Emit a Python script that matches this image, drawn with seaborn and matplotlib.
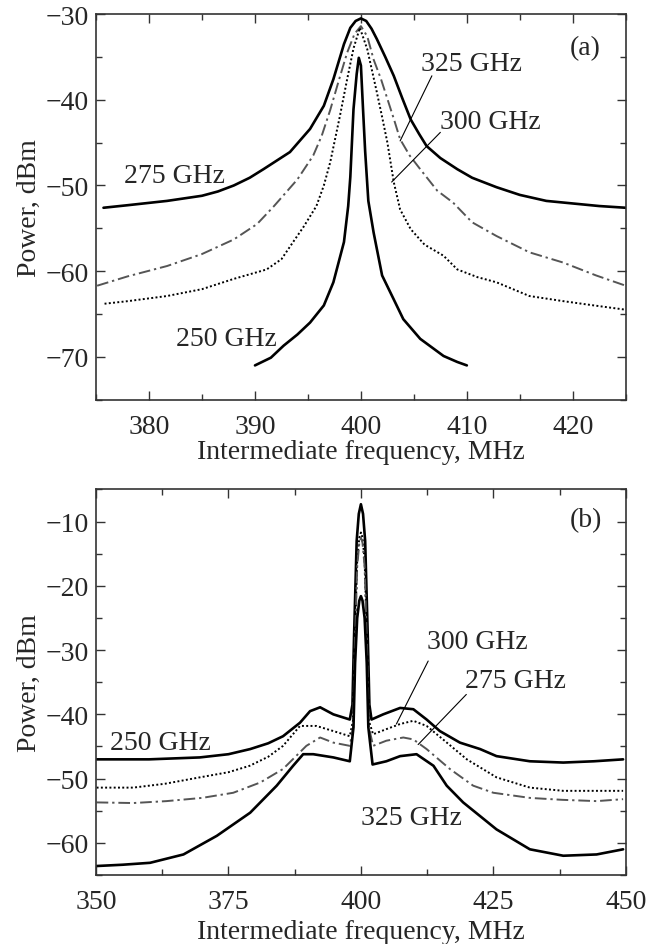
import numpy as np
import pandas as pd
import matplotlib
matplotlib.use("Agg")
import matplotlib.pyplot as plt
import seaborn as sns
from matplotlib.ticker import MultipleLocator

# ---- panel (a): IF spectra, 375-425 MHz ----
a_f275 = [375.7, 378, 381.7, 385, 386.5, 388, 389.5, 390.8, 393.3, 395.2, 396.5, 397.4,
          398.4, 399.0, 399.5, 400.0, 400.5, 401.0, 401.5, 402.3, 403.1, 403.9, 404.7,
          405.5, 406.2, 407.5, 409.1, 410.5, 412.8, 415, 417.5, 420, 422.5, 425]
a_p275 = [-52.6, -52.3, -51.8, -51.2, -50.7, -50.0, -49.1, -48.1, -46.1, -43.4, -40.7, -37.6,
          -33.5, -31.6, -30.8, -30.5, -30.8, -31.7, -32.9, -35.0, -37.2, -39.8, -42.3,
          -44.0, -45.4, -46.8, -48.1, -49.1, -50.2, -51.1, -51.8, -52.1, -52.4, -52.6]

a_f325 = [375.1, 378, 381.7, 385, 388, 390.2, 391.8, 394.0, 395.5, 396.3, 397.1, 397.9,
          398.7, 399.4, 400.0, 400.6, 401.2, 401.9, 402.5, 403.1, 403.7, 404.6, 405.6,
          407.2, 408.7, 410.5, 412.8, 415.9, 419.1, 422.2, 425]
a_p325 = [-61.7, -60.6, -59.4, -58.0, -56.3, -54.5, -52.4, -49.3, -46.5, -44.2, -41.2, -37.8,
          -34.5, -32.3, -31.4, -32.6, -35.3, -37.6, -39.9, -42.2, -44.6, -46.5, -48.1,
          -50.6, -52.0, -54.3, -55.9, -57.8, -59.0, -60.5, -61.7]

a_f300 = [375.8, 378, 381.7, 385, 388, 391.1, 392.5, 393.6, 394.6, 395.8, 396.5, 397.1,
          398.0, 398.7, 399.3, 399.9, 400.6, 401.5, 402.0, 402.5, 403.1, 403.7, 404.7, 406.0,
          407.8, 409.1, 411, 412.8, 415.9, 419.1, 422, 425]
a_p300 = [-63.8, -63.5, -62.9, -62.1, -60.9, -59.8, -58.6, -56.6, -54.8, -52.4, -50.0, -47.3,
          -42.0, -37.6, -34.0, -31.6, -34.1, -39.1, -42.0, -45.0, -49.6, -52.8, -55.1, -56.9,
          -58.2, -59.8, -60.7, -61.3, -62.9, -63.5, -64.0, -64.5]

a_f250 = [390, 391.5, 392.7, 394, 395.2, 396.5, 397.4, 398.4, 398.8, 399.0, 399.3, 399.6,
          399.8, 400.0, 400.2, 400.4, 400.7, 401.2, 402.0, 403.1, 404.0, 405.6, 407.8,
          409.1, 410]
a_p250 = [-71.0, -70.1, -68.7, -67.4, -66.0, -64.0, -61.3, -56.6, -52.4, -49.0, -41.1, -37.0,
          -35.1, -36.0, -41.1, -46.0, -51.8, -55.5, -60.5, -63.3, -65.6, -67.9, -69.9,
          -70.6, -71.0]

# ---- panel (b): IF spectra, 350-450 MHz ----
b_f250 = [350.1, 360, 369.6, 375, 379.1, 382.5, 385.3, 388.5, 390.4, 392.3, 394.8, 397.9,
          398.4, 398.7, 399.2, 399.6, 400.0, 400.4, 400.8, 401.3, 401.6, 402.0, 404.2,
          407.4, 409.9, 412.4, 414.9, 418.7, 422.5, 425.6, 431.9, 438.2, 444, 449.5]
b_p250 = [-47.0, -47.0, -46.7, -46.2, -45.4, -44.5, -43.4, -41.3, -39.5, -38.9, -40.0, -40.8,
          -38.5, -28.0, -13.0, -8.8, -7.3, -8.8, -13.0, -28.0, -38.5, -40.8, -40.0,
          -39.0, -39.2, -40.8, -42.6, -44.4, -45.4, -46.5, -47.3, -47.5, -47.3, -47.0]

b_f300 = [350.1, 357, 363, 369.6, 375, 379, 382.5, 385.3, 388.5, 391.6, 394.8, 397.9,
          398.5, 398.8, 399.3, 399.7, 400.0, 400.3, 400.7, 401.2, 401.5, 402.3, 404.8,
          407.4, 409.9, 412.4, 415.5, 420, 425.6, 431.9, 438.2, 444, 449.5]
b_p300 = [-51.4, -51.4, -50.8, -49.8, -49.0, -48.0, -46.6, -44.9, -41.8, -41.8, -42.6, -43.4,
          -41.0, -30.0, -16.0, -12.5, -11.7, -12.5, -16.0, -30.0, -41.0, -43.1, -42.3,
          -41.5, -41.0, -41.8, -43.9, -47.0, -49.8, -51.4, -51.9, -51.9, -51.9]

b_f275 = [350.1, 357, 363.3, 370, 375.9, 381, 385.3, 389.7, 392.3, 394.8, 397.9,
          398.5, 398.8, 399.3, 399.7, 400.0, 400.3, 400.7, 401.2, 401.5, 402.3, 404.8,
          408.0, 409.9, 412.4, 416.8, 421.2, 425, 431.9, 438, 444.5, 449.5]
b_p275 = [-53.7, -53.8, -53.5, -53.0, -52.2, -50.6, -48.5, -44.9, -43.6, -44.4, -44.9,
          -42.0, -31.0, -17.0, -13.3, -12.5, -13.3, -17.0, -31.0, -42.0, -44.9, -44.1,
          -43.6, -43.9, -45.4, -48.5, -51.1, -52.2, -53.0, -53.3, -53.5, -53.2]

b_f325 = [350.1, 355, 360.2, 366.5, 372.8, 379.1, 384.1, 387.2, 389.1, 391.0, 394.8, 397.9,
          398.6, 398.9, 399.3, 399.7, 400.0, 400.3, 400.7, 401.1, 401.4, 402.2, 404.8,
          407.4, 410.5, 413.7, 416.2, 419.3, 425.6, 431.9, 438.2, 444.5, 449.5]
b_p325 = [-63.6, -63.4, -63.1, -61.8, -58.9, -55.3, -51.1, -48.0, -46.2, -46.2, -46.7, -47.3,
          -42.0, -32.0, -25.0, -22.3, -21.6, -22.3, -25.0, -32.0, -42.0, -47.8, -47.3,
          -46.5, -46.2, -48.0, -51.1, -53.7, -57.9, -61.0, -62.0, -61.8, -61.0]

sns.set_style("ticks")
plt.rcParams['font.family'] = ['Liberation Serif', 'DejaVu Serif']

FS = 20
SOLID = dict(color='black', lw=1.9, linestyle='-')
DOT = dict(color='black', lw=1.4, linestyle=(0, (1, 1.2)))
DASHDOT = dict(color='#555555', lw=1.4, linestyle=(0, (6, 2, 1.2, 2)))

fig = plt.figure(figsize=(6.58, 9.45), dpi=100)
ax1 = fig.add_axes([0.146, 0.576, 0.805, 0.408])
ax2 = fig.add_axes([0.146, 0.073, 0.805, 0.408])


def draw(ax, f, p, style):
    d = pd.DataFrame({'f': f, 'p': p})
    sns.lineplot(data=d, x='f', y='p', ax=ax, estimator=None, sort=False, **style)


draw(ax1, a_f275, a_p275, SOLID)
draw(ax1, a_f325, a_p325, DASHDOT)
draw(ax1, a_f300, a_p300, DOT)
draw(ax1, a_f250, a_p250, SOLID)

draw(ax2, b_f250, b_p250, SOLID)
draw(ax2, b_f300, b_p300, DOT)
draw(ax2, b_f275, b_p275, DASHDOT)
draw(ax2, b_f325, b_p325, SOLID)

ax1.set_xlim(375, 425)
ax1.set_ylim(-75, -30)
ax1.xaxis.set_major_locator(MultipleLocator(10))
ax1.xaxis.set_minor_locator(MultipleLocator(5))
ax1.yaxis.set_major_locator(MultipleLocator(10))
ax1.yaxis.set_minor_locator(MultipleLocator(5))

ax2.set_xlim(350, 450)
ax2.set_ylim(-65, -5)
ax2.xaxis.set_major_locator(MultipleLocator(25))
ax2.xaxis.set_minor_locator(MultipleLocator(12.5))
ax2.yaxis.set_major_locator(MultipleLocator(10))
ax2.yaxis.set_minor_locator(MultipleLocator(5))

for ax, lp in ((ax1, 0), (ax2, 4)):
    ax.set_xlabel('Intermediate frequency, MHz', fontsize=FS, labelpad=lp)
    ax.set_ylabel('Power, dBm', fontsize=FS, labelpad=3)
    ax.tick_params(which='both', direction='in', top=True, right=True,
                   labelsize=FS, width=1.0, color='#333333')
    ax.tick_params(axis='x', which='both', pad=10)
    ax.tick_params(axis='y', which='both', pad=5)
    ax.tick_params(which='major', length=6.5)
    ax.tick_params(which='minor', length=4.5)
    for s in ax.spines.values():
        s.set_linewidth(1.2)
        s.set_color('#333333')

line = dict(arrowstyle='-', lw=0.8, color='black', shrinkA=0, shrinkB=0)

# panel (a) labels
ax1.text(377.6, -48.8, '275 GHz', fontsize=FS, va='center')
ax1.text(382.5, -67.9, '250 GHz', fontsize=FS, va='center')
ax1.text(405.7, -35.8, '325 GHz', fontsize=FS, va='center')
ax1.text(407.5, -42.5, '300 GHz', fontsize=FS, va='center')
ax1.text(419.7, -33.9, '(a)', fontsize=FS, va='center')
ax1.annotate('', xy=(403.7, -44.8), xytext=(406.7, -37.2), arrowprops=line)
ax1.annotate('', xy=(402.9, -49.6), xytext=(407.5, -43.8), arrowprops=line)

# panel (b) labels
ax2.text(352.6, -44.4, '250 GHz', fontsize=FS, va='center')
ax2.text(412.4, -28.6, '300 GHz', fontsize=FS, va='center')
ax2.text(419.6, -34.8, '275 GHz', fontsize=FS, va='center')
ax2.text(400.1, -56.0, '325 GHz', fontsize=FS, va='center')
ax2.text(439.4, -9.7, '(b)', fontsize=FS, va='center')
ax2.annotate('', xy=(406.7, -41.5), xytext=(412.7, -31.7), arrowprops=line)
ax2.annotate('', xy=(410.8, -44.7), xytext=(419.9, -36.9), arrowprops=line)

fig.savefig('out.png', dpi=100)
